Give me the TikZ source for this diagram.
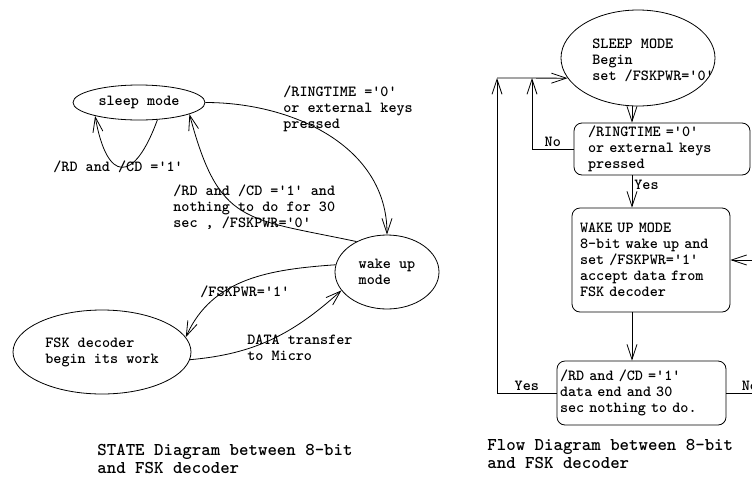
\documentclass[tikz,border=0pt]{standalone}
\usetikzlibrary{shapes.geometric, arrows.meta, positioning}

\begin{document}
\begin{tikzpicture}[
  x=1pt, y=-1pt, line width=0.8pt,
  font=\ttfamily\bfseries\fontsize{15.4}{16}\selectfont,
  st/.style={draw, ellipse, inner sep=0pt, align=left},
  box/.style={draw, rounded corners=8pt, align=left, inner ysep=0pt},
  lbl/.style={anchor=west, align=left, inner sep=0pt},
  capt/.style={lbl, font=\ttfamily\bfseries\fontsize{18}{17.5}\selectfont},
  arr/.style={-{Straight Barb[length=15pt, width=10pt]}},
]
\useasboundingbox (0,0) rectangle (752,480);
\clip (0,0) rectangle (752,480);

% STATE diagram
\node[st, minimum width=132pt, minimum height=35pt] (sleep) at (139,102.5) {sleep mode};
\node[st, minimum width=104pt, minimum height=74pt] (wake) at (387,272) {wake up\\mode};
\node[st, minimum width=178pt, minimum height=84pt] (fsk) at (102,352) {FSK decoder\\begin its work};

\node[lbl] (lring) at (283,109) {/RINGTIME ='0'\\or external keys\\pressed};
\node[lbl] (lloop) at (53,167) {/RD and /CD ='1'};
\node[lbl] (lback) at (173,207) {/RD and /CD ='1' and\\nothing to do for 30\\sec , /FSKPWR='0'};
\node[lbl] (lpwr) at (200,292) {/FSKPWR='1'};
\node[lbl] (ldata) at (247,348) {DATA transfer\\to Micro};
\node[capt] (cstate) at (97,459) {STATE Diagram between 8-bit\\and FSK decoder};

\draw[arr] (sleep.east) to[out=0, in=90] (wake.north);
\draw[arr] (wake.135) to[out=168, in=-75, looseness=1.4] (sleep.-13);
\draw[arr] (sleep.-43) to[out=-110, in=-80, looseness=2.8] (sleep.197);
\draw[arr] (wake.172) to[out=184, in=66] (fsk.10);
\draw[arr] (fsk.-5) to[out=5, in=-138] (wake.202);

% Flow diagram
\node[st, minimum width=154pt, minimum height=96pt] (fsleep) at (638,58) {};
\node[lbl] (fsleeptxt) at (592,60) {SLEEP MODE\\Begin\\set /FSKPWR='0'};
\node[box, minimum height=52pt, text width=148pt, inner xsep=14pt] (ring) at (662,149)
  {/RINGTIME ='0'\\or external keys\\pressed};
\node[box, minimum height=104pt, text width=142pt, inner xsep=8pt] (fwake) at (651,260)
  {WAKE UP MODE\\8-bit wake up and\\set /FSKPWR='1'\\accept data from\\FSK decoder};
\node[box, minimum height=64pt, text width=163pt, inner xsep=3pt] (decide) at (641.5,393)
  {/RD and /CD ='1'\\data end and 30\\sec nothing to do.};
\node[capt] (cflow) at (487,454) {Flow Diagram between 8-bit\\and FSK decoder};

\coordinate (col) at (632,0);
\coordinate (jout) at (497,78);
\coordinate (jin) at (532,78);
\coordinate (jright) at (790,260);

\draw[arr] (fsleep.south -| col) -- (ring.north -| col);
\draw[arr] (ring.south -| col) -- node[right, pos=0.3, inner sep=2pt] (lyes) {Yes} (fwake.north -| col);
\draw[arr] (fwake.south -| col) -- (decide.north -| col);
\draw[arr] (ring.west) -- node[above, inner sep=2pt] (lno) {No} (ring.west -| jin) -- (jin);
\draw[arr] (decide.west) -- node[above, inner sep=2pt] (lyes2) {Yes} (decide.west -| jout) -- (jout);
\draw[arr] (jout) -- (fsleep.196);
\draw[arr] (decide.east) -- node[above, pos=0.37, inner sep=2pt] (lno2) {No} (decide.east -| jright)
  -- (jright) -- (fwake.east);
\end{tikzpicture}
\end{document}
